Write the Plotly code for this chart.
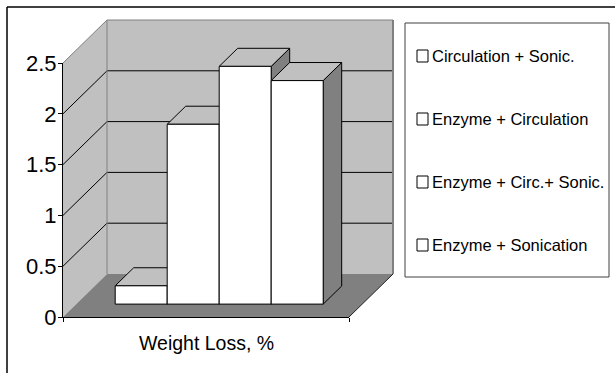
import plotly.graph_objects as go

# ---- data -------------------------------------------------------------
series_names = [
    "Circulation + Sonic.",
    "Enzyme + Circulation",
    "Enzyme + Circ.+ Sonic.",
    "Enzyme + Sonication",
]
weight_loss = [0.18, 1.77, 2.34, 2.20]
category_label = "Weight Loss, %"
y_tick_vals = [0, 0.5, 1, 1.5, 2, 2.5]
y_tick_text = ["0", "0.5", "1", "1.5", "2", "2.5"]

# ---- geometry of the pseudo-3D frame ----------------------------------
W, H = 615, 373
PX_PER_UNIT = 101.6          # vertical pixels per value unit
BASE_PX = 317                # pixel row of the front floor edge
Y_MAX = 2.5

FLOOR_X0, FLOOR_X1 = 63, 349  # front floor edge (pixels)
DEPTH_DX = 44                 # horizontal shift of the back wall (pixels)
DEPTH_DY = 43 / PX_PER_UNIT   # vertical shift of the back wall (value units)
BAR_D0, BAR_D1 = 0.30, 0.72   # bar depth range within the floor
GAP_WIDTH = 1.5               # gap between groups, in bar widths

WALL = "#c0c0c0"
FLOOR = "#808080"
EDGE = "#808080"
FONT = "Liberation Sans, Arial, sans-serif"


def proj(x, v, d):
    """Oblique projection: depth d (0 = front, 1 = back wall)."""
    return x + d * DEPTH_DX, v + d * DEPTH_DY


fig = go.Figure()


def polygon(points, fill, line_color=None, line_width=0):
    xs = [p[0] for p in points] + [points[0][0]]
    ys = [p[1] for p in points] + [points[0][1]]
    fig.add_trace(go.Scatter(
        x=xs, y=ys, mode="lines", fill="toself", fillcolor=fill,
        line=dict(color=line_color or fill, width=line_width),
        hoverinfo="skip", showlegend=False,
    ))


def segment(p, q, color, width=1):
    fig.add_trace(go.Scatter(
        x=[p[0], q[0]], y=[p[1], q[1]], mode="lines",
        line=dict(color=color, width=width),
        hoverinfo="skip", showlegend=False,
    ))


# back wall
polygon([proj(FLOOR_X0, 0, 1), proj(FLOOR_X1, 0, 1),
         proj(FLOOR_X1, Y_MAX, 1), proj(FLOOR_X0, Y_MAX, 1)], WALL)
# side wall
polygon([proj(FLOOR_X0, 0, 0), proj(FLOOR_X0, 0, 1),
         proj(FLOOR_X0, Y_MAX, 1), proj(FLOOR_X0, Y_MAX, 0)], WALL)
# floor
polygon([proj(FLOOR_X0, 0, 0), proj(FLOOR_X1, 0, 0),
         proj(FLOOR_X1, 0, 1), proj(FLOOR_X0, 0, 1)], FLOOR)

# grid lines on the walls
for v in y_tick_vals[1:-1]:
    segment(proj(FLOOR_X0, v, 0), proj(FLOOR_X0, v, 1), "black", 1)
    segment(proj(FLOOR_X0, v, 1), proj(FLOOR_X1, v, 1), "black", 1)

# wall edges
segment(proj(FLOOR_X0, Y_MAX, 0), proj(FLOOR_X0, Y_MAX, 1), EDGE, 1)
segment(proj(FLOOR_X0, Y_MAX, 1), proj(FLOOR_X1, Y_MAX, 1), EDGE, 1)
segment(proj(FLOOR_X0, 0, 1), proj(FLOOR_X0, Y_MAX, 1), EDGE, 1)
segment(proj(FLOOR_X1, 0, 1), proj(FLOOR_X1, Y_MAX, 1), EDGE, 2)
segment(proj(FLOOR_X1, 0, 0), proj(FLOOR_X1, 0, 1), "#202020", 1)

# bars, left to right so each one hides the side of its neighbour
n = len(weight_loss)
bar_w = (FLOOR_X1 - FLOOR_X0) / (n + GAP_WIDTH)
start = FLOOR_X0 + bar_w * GAP_WIDTH / 2
for i, v in enumerate(weight_loss):
    x0 = start + i * bar_w
    x1 = x0 + bar_w
    polygon([proj(x1, 0, BAR_D0), proj(x1, 0, BAR_D1),
             proj(x1, v, BAR_D1), proj(x1, v, BAR_D0)], "#808080", "black", 1)
    polygon([proj(x0, v, BAR_D0), proj(x1, v, BAR_D0),
             proj(x1, v, BAR_D1), proj(x0, v, BAR_D1)], WALL, "black", 1)
    polygon([proj(x0, 0, BAR_D0), proj(x1, 0, BAR_D0),
             proj(x1, v, BAR_D0), proj(x0, v, BAR_D0)], "white", "black", 1)

# helper trace so the value axis subplot is drawn
fig.add_trace(go.Scatter(x=[0.5], y=[0], xaxis="x2", yaxis="y2", mode="markers",
                         marker=dict(opacity=0), hoverinfo="skip", showlegend=False))

y_lo = -(H - BASE_PX) / PX_PER_UNIT
y_hi = BASE_PX / PX_PER_UNIT
dom_lo = (H - BASE_PX) / H
dom_hi = (H - BASE_PX + Y_MAX * PX_PER_UNIT) / H


def px_x(x):
    return x / W


def px_y(y):
    return 1 - y / H


shapes = [
    # chart border
    dict(type="line", xref="paper", yref="paper", x0=px_x(7), x1=1.02, y0=px_y(7), y1=px_y(7),
         line=dict(color="black", width=1.5)),
    dict(type="line", xref="paper", yref="paper", x0=px_x(7), x1=px_x(7), y0=px_y(7), y1=-0.02,
         line=dict(color="black", width=1.5)),
    # legend box
    dict(type="rect", xref="paper", yref="paper", x0=px_x(405), x1=px_x(609),
         y0=px_y(277), y1=px_y(23), line=dict(color="#404040", width=1), fillcolor="white"),
]
annotations = [
    dict(text=category_label, xref="paper", yref="paper",
         x=px_x((FLOOR_X0 + FLOOR_X1) / 2), y=px_y(343), xanchor="center", yanchor="middle",
         showarrow=False, font=dict(family=FONT, size=19.5, color="black")),
]
for i, name in enumerate(series_names):
    yc = 56 + i * 63
    shapes.append(dict(type="rect", xref="paper", yref="paper",
                       x0=px_x(417), x1=px_x(428), y0=px_y(yc + 6), y1=px_y(yc - 6),
                       line=dict(color="black", width=1), fillcolor="white"))
    annotations.append(dict(text=name, xref="paper", yref="paper", x=px_x(430), y=px_y(yc),
                            xanchor="left", yanchor="middle", showarrow=False,
                            font=dict(family=FONT, size=16.5, color="black")))

fig.update_layout(
    width=W, height=H, autosize=False,
    margin=dict(l=0, r=0, t=0, b=0, pad=0, autoexpand=False),
    paper_bgcolor="white", plot_bgcolor="rgba(0,0,0,0)",
    showlegend=False,
    xaxis=dict(range=[0, W], domain=[0, 1], visible=False, fixedrange=True, automargin=False),
    yaxis=dict(range=[y_lo, y_hi], domain=[0, 1], visible=False, fixedrange=True, automargin=False),
    xaxis2=dict(domain=[FLOOR_X0 / W, FLOOR_X1 / W], range=[0, 1], anchor="y2",
                showline=True, linecolor="black", linewidth=1, showgrid=False, zeroline=False,
                ticks="outside", tickvals=[0, 1], ticklen=4, tickcolor="black",
                showticklabels=False, fixedrange=True, automargin=False),
    yaxis2=dict(domain=[dom_lo, dom_hi], range=[0, Y_MAX], anchor="x2",
                showline=True, linecolor="black", linewidth=1, showgrid=False, zeroline=False,
                ticks="outside", tickvals=y_tick_vals, ticktext=y_tick_text, ticklen=4,
                tickcolor="black", ticklabelstandoff=-3, automargin=False,
                tickfont=dict(family=FONT, size=22, color="black"), fixedrange=True),
    shapes=shapes,
    annotations=annotations,
)

fig.write_html(
    "out.html",
    config={"displayModeBar": False},
    post_script="document.body.style.margin='0';document.body.style.overflow='hidden';",
)
